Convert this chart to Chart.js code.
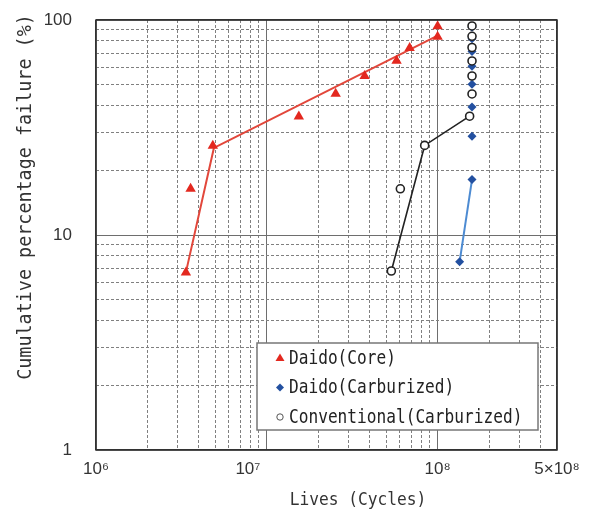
<!DOCTYPE html>
<html>
<head>
<meta charset="utf-8">
<script src="https://cdn.jsdelivr.net/npm/chart.js@4.4.1/dist/chart.umd.min.js"></script>
<style>
    html, body { margin: 0; padding: 0; background: #fff; }
    #wrap { width: 598px; height: 514px; position: relative; }
</style>
</head>
<body>
<div id="wrap"><canvas id="lifeChart"></canvas></div>
<script>
// Daido (Core) - red triangles
const coreLives = [3.36e6, 3.58e6, 4.83e6, 15.4e6, 25.3e6, 37.4e6, 57.5e6, 68.6e6, 1.0e8, 1.0e8];
const coreFailure = [6.7, 16.4, 26.0, 35.6, 45.4, 54.9, 64.6, 74.1, 83.6, 93.5];
const coreLineLives = [3.36e6, 4.9e6, 1.0e8];
const coreLineFailure = [6.7, 25.4, 84.5];

// Daido (Carburized) - blue diamonds
const carbLives = [1.345e8, 1.59e8, 1.59e8, 1.59e8, 1.59e8, 1.59e8, 1.59e8, 1.59e8, 1.59e8];
const carbFailure = [7.5, 18.1, 28.8, 39.4, 50.3, 61.0, 71.3, 81.9, 92.6];
const carbLineLives = [1.345e8, 1.59e8];
const carbLineFailure = [7.5, 18.1];

// Conventional (Carburized) - open circles
const convLives = [53.6e6, 60.5e6, 84e6, 1.54e8, 1.59e8, 1.59e8, 1.59e8, 1.59e8, 1.59e8, 1.59e8];
const convFailure = [6.8, 16.4, 26.1, 35.7, 45.3, 54.9, 64.5, 74.5, 84.0, 93.8];
const convLineLives = [53.6e6, 84e6, 1.54e8];
const convLineFailure = [6.8, 26.1, 35.7];

// axes
const xTicks = [1e6, 2e6, 3e6, 4e6, 5e6, 6e6, 7e6, 8e6, 9e6,
    1e7, 2e7, 3e7, 4e7, 5e7, 6e7, 7e7, 8e7, 9e7,
    1e8, 2e8, 3e8, 4e8, 5e8];
const xMajor = [1e7, 1e8];
const xLabels = {1e6: '10\u2076', 1e7: '10\u2077        ', 1e8: '10\u2078', 5e8: '5\u00d710\u2078'};
const yTicks = [1, 2, 3, 4, 5, 6, 7, 8, 9, 10, 20, 30, 40, 50, 60, 70, 80, 90, 100];
const yMajor = [10];
const yLabels = {1: '1', 10: '10', 100: '100'};

const toPoints = (xs, ys) => xs.map((x, i) => ({x: x, y: ys[i]}));

function gridStyle(major, min, max) {
    return {
        color: ctx => {
            const v = ctx.tick ? ctx.tick.value : null;
            if (v === min || v === max) return '#333';
            return major.includes(v) ? '#6e6e6e' : '#808080';
        },
        lineWidth: ctx => {
            const v = ctx.tick ? ctx.tick.value : null;
            return (v === min || v === max) ? 1.5 : 1;
        },
        drawTicks: false
    };
}

function borderStyle(major, min, max) {
    return {
        display: false,
        dash: ctx => {
            const v = ctx.tick ? ctx.tick.value : null;
            if (v === null || v === min || v === max || major.includes(v)) return [];
            return [3, 2];
        }
    };
}

// legend box + axis titles + frame
const extras = {
    id: 'extras',
    afterDraw(chart) {
        const {ctx, chartArea: a} = chart;
        ctx.save();
        ctx.strokeStyle = '#333';
        ctx.lineWidth = 1.5;
        ctx.strokeRect(a.left, a.top, a.right - a.left, a.bottom - a.top);

        // axis titles (narrow font look)
        ctx.fillStyle = '#333';
        ctx.textAlign = 'center';
        ctx.textBaseline = 'middle';
        ctx.save();
        ctx.translate(a.left + 262, a.bottom + 50);
        ctx.scale(0.9, 1);
        ctx.font = '18px "DejaVu Sans Mono"';
        ctx.fillText('Lives (Cycles)', 0, 0);
        ctx.restore();

        ctx.save();
        ctx.translate(26, 197);
        ctx.rotate(-Math.PI / 2);
        ctx.scale(0.92, 1);
        ctx.font = '20px "DejaVu Sans Mono"';
        ctx.fillText('Cumulative percentage failure (%)', 0, 0);
        ctx.restore();

        // legend
        const bx = a.left + 161, by = a.top + 323, bw = 281, bh = 87;
        ctx.fillStyle = '#fff';
        ctx.fillRect(bx, by, bw, bh);
        ctx.strokeStyle = '#777';
        ctx.lineWidth = 1.5;
        ctx.strokeRect(bx, by, bw, bh);

        const items = chart.data.datasets
            .filter(d => d.legendIndex !== undefined)
            .sort((p, q) => p.legendIndex - q.legendIndex);
        items.forEach((d, i) => {
            const mx = bx + 23, my = by + 15 + i * 29.5;
            ctx.beginPath();
            if (d.pointStyle === 'triangle') {
                ctx.moveTo(mx, my - 4.5);
                ctx.lineTo(mx + 4.5, my + 3);
                ctx.lineTo(mx - 4.5, my + 3);
                ctx.closePath();
                ctx.fillStyle = d.pointBackgroundColor;
                ctx.fill();
            } else if (d.pointStyle === 'rectRot') {
                ctx.moveTo(mx, my - 4);
                ctx.lineTo(mx + 4, my);
                ctx.lineTo(mx, my + 4);
                ctx.lineTo(mx - 4, my);
                ctx.closePath();
                ctx.fillStyle = d.pointBackgroundColor;
                ctx.fill();
            } else {
                ctx.arc(mx, my, 3.2, 0, Math.PI * 2);
                ctx.strokeStyle = '#555';
                ctx.lineWidth = 1;
                ctx.stroke();
            }
            ctx.save();
            ctx.translate(bx + 32, my + 1);
            ctx.scale(0.85, 1);
            ctx.font = '19px "DejaVu Sans Mono"';
            ctx.textAlign = 'left';
            ctx.fillStyle = '#222';
            ctx.fillText(d.label, 0, 0);
            ctx.restore();
        });
        ctx.restore();
    }
};

new Chart(document.getElementById('lifeChart'), {
    type: 'scatter',
    data: {
        datasets: [
            {
                label: 'Conventional(Carburized)',
                legendIndex: 2,
                data: toPoints(convLives, convFailure),
                pointStyle: 'circle',
                pointRadius: 4,
                pointBorderWidth: 1.6,
                pointBorderColor: '#222',
                pointBackgroundColor: '#fff',
                order: 1
            },
            {
                label: 'Daido(Carburized)',
                legendIndex: 1,
                data: toPoints(carbLives, carbFailure),
                pointStyle: 'rectRot',
                pointRadius: 4.5,
                pointBorderWidth: 0,
                pointBackgroundColor: '#2350a0',
                pointBorderColor: '#2350a0',
                order: 2
            },
            {
                label: 'Daido(Core)',
                legendIndex: 0,
                data: toPoints(coreLives, coreFailure),
                pointStyle: 'triangle',
                pointRadius: 6,
                pointBorderWidth: 0,
                pointBackgroundColor: '#e3281f',
                pointBorderColor: '#e3281f',
                order: 3
            },
            {
                label: 'core fit',
                data: toPoints(coreLineLives, coreLineFailure),
                showLine: true,
                borderColor: '#e2473b',
                borderWidth: 2,
                pointRadius: 0,
                order: 6
            },
            {
                label: 'carburized fit',
                data: toPoints(carbLineLives, carbLineFailure),
                showLine: true,
                borderColor: '#4d8bd2',
                borderWidth: 2,
                pointRadius: 0,
                order: 5
            },
            {
                label: 'conventional fit',
                data: toPoints(convLineLives, convLineFailure),
                showLine: true,
                borderColor: '#222',
                borderWidth: 1.6,
                pointRadius: 0,
                order: 4
            }
        ]
    },
    options: {
        responsive: true,
        maintainAspectRatio: false,
        devicePixelRatio: 1,
        animation: false,
        layout: {
            padding: {left: 0, top: 20, right: 41, bottom: 0}
        },
        plugins: {
            legend: {display: false},
            tooltip: {enabled: false}
        },
        scales: {
            x: {
                type: 'logarithmic',
                min: 1e6,
                max: 5e8,
                afterBuildTicks: scale => { scale.ticks = xTicks.map(v => ({value: v})); },
                afterFit: scale => { scale.height = 64; },
                grid: gridStyle(xMajor, 1e6, 5e8),
                border: borderStyle(xMajor, 1e6, 5e8),
                ticks: {
                    autoSkip: false,
                    maxRotation: 0,
                    padding: 9,
                    color: '#333',
                    font: {family: '"Liberation Sans"', size: 17},
                    callback: v => xLabels[v] || ''
                }
            },
            y: {
                type: 'logarithmic',
                min: 1,
                max: 100,
                afterBuildTicks: scale => { scale.ticks = yTicks.map(v => ({value: v})); },
                afterFit: scale => { scale.width = 96; },
                grid: Object.assign(gridStyle(yMajor, 1, 100), {
                    drawTicks: true,
                    tickLength: 16,
                    tickColor: 'rgba(0,0,0,0)'
                }),
                border: borderStyle(yMajor, 1, 100),
                ticks: {
                    autoSkip: false,
                    padding: 8,
                    color: '#333',
                    font: {family: '"Liberation Sans"', size: 17},
                    callback: v => yLabels[v] || ''
                }
            }
        }
    },
    plugins: [extras]
});
</script>
</body>
</html>
